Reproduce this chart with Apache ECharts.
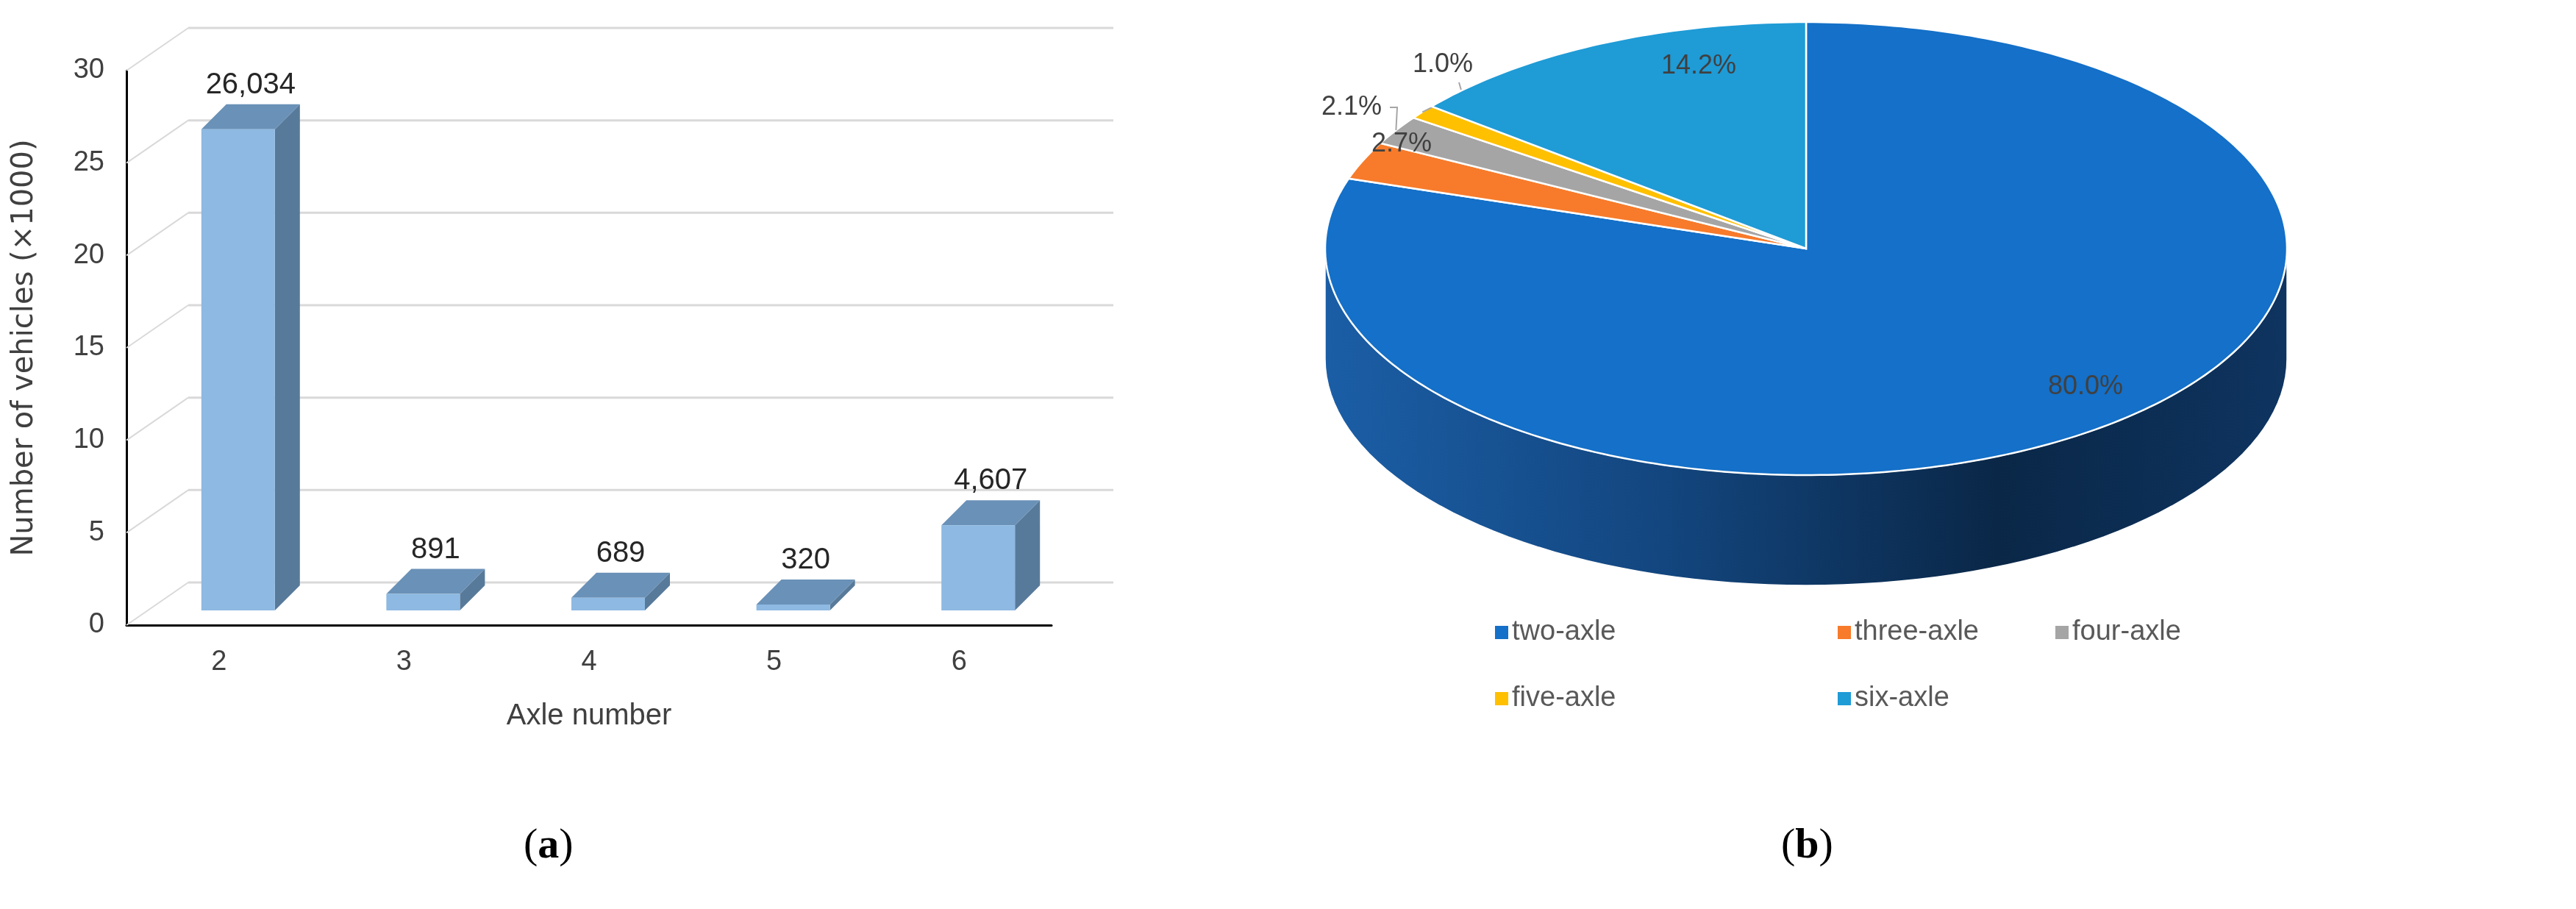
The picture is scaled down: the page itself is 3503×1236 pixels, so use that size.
<!DOCTYPE html>
<html>
<head>
<meta charset="utf-8">
<script src="https://cdn.jsdelivr.net/npm/echarts@6/dist/echarts.min.js"></script>
<style>html,body{margin:0;background:#fff}#chart{width:3503px;height:1236px}</style>
</head>
<body>
<div id="chart"></div>
<script>
// bar chart data
var axles = ['2', '3', '4', '5', '6'];
var counts = [26.034, 0.891, 0.689, 0.320, 4.607];
var countLabels = ['26,034', '891', '689', '320', '4,607'];
var yTicks = [0, 5, 10, 15, 20, 25, 30];

// pie chart data
var pieNames = ['two-axle', 'three-axle', 'four-axle', 'five-axle', 'six-axle'];
var pieValues = [80.0, 2.7, 2.1, 1.0, 14.2];
var pieLabels = ['80.0%', '2.7%', '2.1%', '1.0%', '14.2%'];
var pieColors = ['#1470C8', '#F77B2B', '#A5A5A5', '#FFC000', '#1F9BD6'];

// layout (not data)
var PIE = { cx: 2456, cy: 338, rx: 654, ry: 308, depth: 150 };
var pieLabelPos = [[2836, 526], [1906, 196], [1838, 146], [1962, 88], [2310, 90]];
var pieLeader = [false, false, true, true, false];
var FONT = '"Liberation Sans Narrow", "Liberation Sans", sans-serif';
var BACK = [84, -58];

var chart = echarts.init(document.getElementById('chart'));

var total = pieValues.reduce(function (a, b) { return a + b; }, 0);
function ellipsePt(t, dy) {
  return [PIE.cx + PIE.rx * Math.sin(t), PIE.cy - PIE.ry * Math.cos(t) + (dy || 0)];
}

function pieSeries(i) {
  return {
    type: 'custom',
    name: pieNames[i],
    coordinateSystem: 'none',
    itemStyle: { color: pieColors[i] },
    data: [[pieValues[i]]],
    z: 3,
    renderItem: function () {
      var start = 0;
      for (var k = 0; k < i; k++) start += pieValues[k];
      var t0 = start / total * Math.PI * 2;
      var t1 = (start + pieValues[i]) / total * Math.PI * 2;
      var children = [];
      // front side wall for the part of the slice in the lower half
      var s0 = Math.max(t0, Math.PI / 2), s1 = Math.min(t1, Math.PI * 1.5);
      if (s1 > s0) {
        var wall = [], n = 80, j;
        for (j = 0; j <= n; j++) wall.push(ellipsePt(s0 + (s1 - s0) * j / n, 0));
        for (j = n; j >= 0; j--) wall.push(ellipsePt(s0 + (s1 - s0) * j / n, PIE.depth));
        children.push({
          type: 'polygon', shape: { points: wall },
          style: {
            fill: new echarts.graphic.LinearGradient(0, 0, 1, 0, [
              { offset: 0, color: '#1B5EA6' },
              { offset: 0.35, color: '#13467F' },
              { offset: 0.7, color: '#0A2747' },
              { offset: 1, color: '#0E3460' }
            ]),
            stroke: '#ffffff', lineWidth: 1.5
          }
        });
      }
      var pts = [[PIE.cx, PIE.cy]];
      var m = Math.max(4, Math.round((t1 - t0) * 60));
      for (var q = 0; q <= m; q++) pts.push(ellipsePt(t0 + (t1 - t0) * q / m));
      children.push({
        type: 'polygon', shape: { points: pts },
        style: { fill: pieColors[i], stroke: '#ffffff', lineWidth: 2.5 }
      });
      var lp = pieLabelPos[i];
      if (pieLeader[i]) {
        var edge = ellipsePt((t0 + t1) / 2);
        var anchor = i === 3 ? [lp[0] + 22, lp[1] + 24] : [lp[0] + 52, lp[1]];
        children.push({
          type: 'polyline', shape: { points: [anchor, [anchor[0] + (i === 3 ? 4 : 10), anchor[1] + (i === 3 ? 14 : 0)], edge] },
          style: { stroke: '#A6A6A6', lineWidth: 2, fill: null }
        });
      }
      children.push({
        type: 'text', x: lp[0], y: lp[1], z2: 10,
        style: { text: pieLabels[i], font: '36px ' + FONT, fill: '#404040', align: 'center', verticalAlign: 'middle' }
      });
      return { type: 'group', children: children };
    }
  };
}

// back grid of the 3D bar chart
var gridSeries = {
  type: 'custom',
  coordinateSystem: 'cartesian2d',
  xAxisIndex: 0, yAxisIndex: 0,
  silent: true, z: 1,
  data: yTicks.map(function (v) { return [0, v]; }),
  renderItem: function (params, api) {
    var p = api.coord([0, api.value(1)]);
    var x0 = 172, y = p[1];
    return {
      type: 'group', children: [
        { type: 'line', shape: { x1: x0, y1: y, x2: x0 + BACK[0], y2: y + BACK[1] }, style: { stroke: '#D9D9D9', lineWidth: 2 } },
        { type: 'line', shape: { x1: x0 + BACK[0], y1: y + BACK[1], x2: 1514, y2: y + BACK[1] }, style: { stroke: '#D9D9D9', lineWidth: 3 } }
      ]
    };
  }
};

var barSeries = {
  type: 'custom',
  coordinateSystem: 'cartesian2d',
  xAxisIndex: 0, yAxisIndex: 0, z: 2,
  data: counts.map(function (v, i) { return [i, v]; }),
  renderItem: function (params, api) {
    var top = api.coord([api.value(0), api.value(1)]);
    var base = api.coord([api.value(0), 0]);
    var shift = -20, w = 100, d = 34;
    var xl = top[0] - 24, xr = xl + w;
    var yt = top[1] + shift, yb = base[1] + shift;
    return {
      type: 'group', children: [
        { type: 'polygon', shape: { points: [[xr, yt], [xr + d, yt - d], [xr + d, yb - d], [xr, yb]] }, style: { fill: '#587A9A' } },
        { type: 'polygon', shape: { points: [[xl, yt], [xl + d, yt - d], [xr + d, yt - d], [xr, yt]] }, style: { fill: '#6A91B7' } },
        { type: 'rect', shape: { x: xl, y: yt, width: w, height: yb - yt }, style: { fill: '#8DB9E2' } },
        { type: 'text', x: xl + (w + d) / 2, y: yt - d - 6, style: { text: countLabels[params.dataIndex], font: '40px ' + FONT, fill: '#262626', align: 'center', verticalAlign: 'bottom' } }
      ]
    };
  }
};

var legendText = { fontSize: 38, color: '#595959', fontFamily: FONT };
function legendCol(left, names) {
  return {
    orient: 'vertical', left: left, top: 836, itemGap: 52,
    icon: 'rect', itemWidth: 18, itemHeight: 18,
    textStyle: legendText, data: names, selectedMode: false
  };
}

var capStyle = function (letter) {
  return { text: '({b|' + letter + '})', rich: { b: { fontWeight: 'bold', fontSize: 58, fontFamily: '"Liberation Serif", serif' } }, fontSize: 58, fontFamily: '"Liberation Serif", serif', fill: '#000' };
};

chart.setOption({
  animation: false,
  grid: { left: 172, top: 96, width: 1258, height: 754 },
  xAxis: {
    type: 'category', data: axles,
    name: 'Axle number', nameLocation: 'middle', nameGap: 104,
    nameTextStyle: { fontSize: 40, color: '#404040', fontFamily: FONT },
    axisLine: { lineStyle: { color: '#000', width: 3 } },
    axisTick: { show: false },
    axisLabel: { fontSize: 38, color: '#404040', fontFamily: FONT, margin: 32 }
  },
  yAxis: {
    type: 'value', min: 0, max: 30, interval: 5,
    name: 'Number of vehicles (\u00d71000)', nameLocation: 'middle', nameGap: 118,
    nameTextStyle: { fontSize: 40, color: '#404040', fontFamily: '"DejaVu Sans", sans-serif' },
    axisLine: { show: true, lineStyle: { color: '#000', width: 3 } },
    axisTick: { show: false },
    splitLine: { show: false },
    axisLabel: { fontSize: 38, color: '#404040', fontFamily: FONT, margin: 30 }
  },
  legend: [
    legendCol(2028, ['two-axle', 'five-axle']),
    legendCol(2494, ['three-axle', 'six-axle']),
    legendCol(2790, ['four-axle'])
  ],
  graphic: [
    { type: 'text', left: 712, top: 1122, style: capStyle('a') },
    { type: 'text', left: 2422, top: 1122, style: capStyle('b') }
  ],
  series: [gridSeries, barSeries].concat(pieNames.map(function (n, i) { return pieSeries(i); }))
});
</script>
</body>
</html>
